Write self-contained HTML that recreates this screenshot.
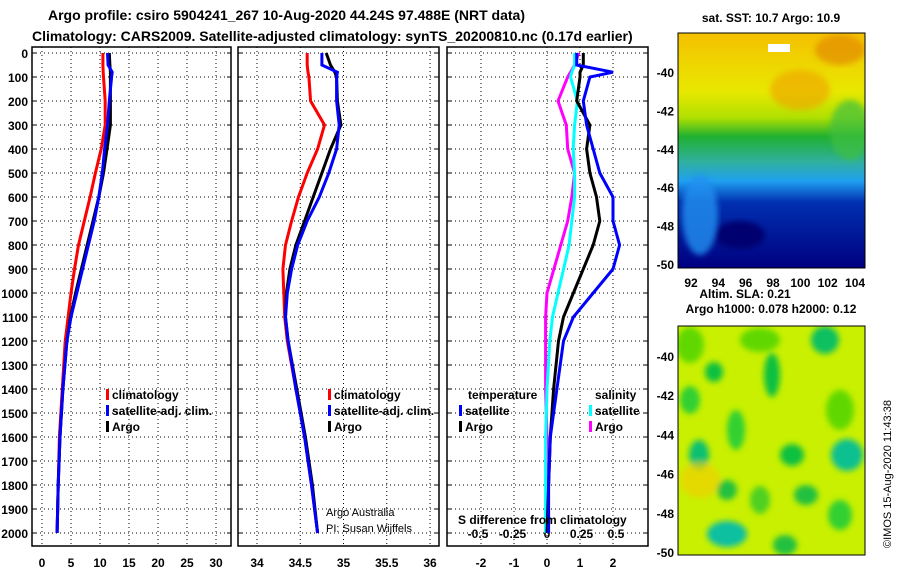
<!DOCTYPE html>
<html><head><meta charset="utf-8"><style>
body{margin:0;background:#fff;}
svg text{font-family:"Liberation Sans",sans-serif;font-weight:bold;}
</style></head><body>
<svg id="c" width="900" height="580" viewBox="0 0 900 580" xmlns="http://www.w3.org/2000/svg">
<defs>
<linearGradient id="sstg" x1="0" y1="0" x2="0" y2="1">
<stop offset="0" stop-color="#f5c000"/><stop offset="0.25" stop-color="#e8e800"/><stop offset="0.36" stop-color="#b0e000"/>
<stop offset="0.44" stop-color="#20b030"/><stop offset="0.55" stop-color="#30b0a0"/><stop offset="0.63" stop-color="#20a0f0"/>
<stop offset="0.72" stop-color="#0030b0"/><stop offset="1" stop-color="#000080"/></linearGradient>
<filter id="bl"><feGaussianBlur stdDeviation="3"/></filter>
</defs>
<text x="48" y="20" font-size="14">Argo profile: csiro 5904241_267 10-Aug-2020 44.24S 97.488E (NRT data)</text>
<text x="32" y="41" font-size="14">Climatology: CARS2009. Satellite-adjusted climatology: synTS_20200810.nc (0.17d earlier)</text>
<g id="plots"></g>
<g>
<rect x="678" y="33" width="187" height="235" fill="url(#sstg)"/>
<g clip-path="url(#m1)">
<ellipse cx="800" cy="90" rx="30" ry="20" fill="#f0a000" opacity="0.6" filter="url(#bl)"/>
<ellipse cx="840" cy="50" rx="25" ry="15" fill="#e08000" opacity="0.6" filter="url(#bl)"/>
<ellipse cx="740" cy="235" rx="25" ry="14" fill="#000070" filter="url(#bl)"/>
<ellipse cx="850" cy="130" rx="20" ry="30" fill="#40c040" opacity="0.7" filter="url(#bl)"/>
<ellipse cx="700" cy="215" rx="18" ry="40" fill="#2090f0" opacity="0.8" filter="url(#bl)"/>
<rect x="768" y="44" width="22" height="8" fill="#fff"/>
</g>
<clipPath id="m1"><rect x="678" y="33" width="187" height="235"/></clipPath>
<rect x="678" y="33" width="187" height="235" fill="none" stroke="#000"/>
<text x="771" y="22" font-size="12" text-anchor="middle">sat. SST: 10.7 Argo: 10.9</text>
</g>
<g>
<rect x="678" y="326" width="187" height="229" fill="#c8f000"/>
<g clip-path="url(#m2)" filter="url(#bl)">
<ellipse cx="825" cy="340" rx="14" ry="14" fill="#10c060"/><ellipse cx="772" cy="375" rx="8" ry="22" fill="#10c040"/>
<ellipse cx="714" cy="372" rx="9" ry="10" fill="#10c040"/><ellipse cx="690" cy="400" rx="10" ry="14" fill="#30d030"/>
<ellipse cx="736" cy="430" rx="9" ry="20" fill="#30d030"/><ellipse cx="699" cy="455" rx="10" ry="15" fill="#10c070"/>
<ellipse cx="792" cy="455" rx="12" ry="11" fill="#10c040"/><ellipse cx="847" cy="455" rx="16" ry="16" fill="#10c090"/>
<ellipse cx="727" cy="490" rx="10" ry="10" fill="#20c040"/><ellipse cx="806" cy="495" rx="12" ry="10" fill="#20c040"/>
<ellipse cx="727" cy="534" rx="20" ry="13" fill="#10c0a0"/><ellipse cx="840" cy="515" rx="12" ry="15" fill="#30d030"/>
<ellipse cx="700" cy="480" rx="20" ry="18" fill="#f0d000" opacity="0.7"/><ellipse cx="785" cy="545" rx="12" ry="10" fill="#20c040"/>
<ellipse cx="760" cy="340" rx="20" ry="12" fill="#60d800"/><ellipse cx="840" cy="410" rx="14" ry="20" fill="#60d800"/>
<ellipse cx="690" cy="345" rx="14" ry="18" fill="#60d800"/><ellipse cx="760" cy="500" rx="10" ry="14" fill="#50d020"/>
</g>
<clipPath id="m2"><rect x="678" y="326" width="187" height="229"/></clipPath>
<rect x="678" y="326" width="187" height="229" fill="none" stroke="#000"/>
<text x="745" y="298" font-size="12" text-anchor="middle">Altim. SLA: 0.21</text>
<text x="771" y="313" font-size="12" text-anchor="middle">Argo h1000: 0.078 h2000: 0.12</text>
<text transform="translate(891,548) rotate(-90)" font-size="11" style="font-weight:normal">©IMOS 15-Aug-2020 11:43:38</text>
</g>
<g id="maplabels"></g>
</svg>
<script>
var depths=[0,50,80,100,200,300,400,500,600,700,800,900,1000,1100,1200,1400,1600,1800,2000];
var tClim=[10.5,10.5,10.55,10.6,10.9,10.9,10.2,9.2,8.3,7.3,6.3,5.6,5.0,4.5,4.0,3.5,3.0,2.8,2.6];
var tSat=[11.3,11.4,12.1,12.0,11.6,11.3,10.8,10.4,9.8,9.0,8.0,7.0,6.0,5.0,4.3,3.6,3.1,2.8,2.6];
var tArgo=[11.6,11.7,11.8,11.8,11.8,11.8,11.2,10.6,9.8,8.8,7.8,6.8,5.8,4.9,4.3,3.6,3.1,2.8,2.6];
var sClim=[34.58,34.58,34.59,34.6,34.62,34.78,34.7,34.58,34.48,34.4,34.33,34.3,34.31,34.32,34.35,34.45,34.55,34.63,34.7];
var sSat=[34.75,34.75,34.93,34.92,34.92,34.95,34.92,34.83,34.72,34.58,34.47,34.4,34.35,34.33,34.36,34.45,34.55,34.63,34.7];
var sArgo=[34.8,34.85,34.9,34.92,34.93,34.97,34.85,34.75,34.65,34.55,34.45,34.38,34.34,34.33,34.36,34.46,34.56,34.64,34.7];
var dTSat=[0.9,0.9,2.0,1.3,1.1,1.2,1.4,1.6,2.0,2.0,2.2,2.0,1.4,0.8,0.5,0.3,0.1,0.05,0.05];
var dTArgo=[1.1,1.1,1.0,1.0,0.9,1.3,1.2,1.3,1.5,1.6,1.4,1.1,0.8,0.5,0.35,0.2,0.1,0.05,0.0];
var dSSat=[0.2,0.2,0.18,0.17,0.22,0.2,0.19,0.2,0.2,0.18,0.16,0.12,0.08,0.04,0.02,0.0,-0.01,-0.01,-0.01];
var dSArgo=[0.23,0.2,0.17,0.15,0.08,0.14,0.15,0.2,0.18,0.15,0.1,0.05,0.0,-0.01,-0.01,-0.01,0.0,0.0,0.0];
var depthTicks=[0,100,200,300,400,500,600,700,800,900,1000,1100,1200,1300,1400,1500,1600,1700,1800,1900,2000];
var tTicks=[0,5,10,15,20,25,30];
var sTicks=[34,34.5,35,35.5,36];
var dTTicks=[-2,-1,0,1,2];
var dSTicks=[-0.5,-0.25,0,0.25,0.5];
var latTicks=[-40,-42,-44,-46,-48,-50];
var lonTicks=[92,94,96,98,100,102,104];

var NS='http://www.w3.org/2000/svg';
var G=document.getElementById('plots');
function mk(t,a,p){var e=document.createElementNS(NS,t);for(var k in a)e.setAttribute(k,a[k]);(p||G).appendChild(e);return e;}
function yD(d){return 53+d*0.24;}
function xT(v){return 42+v*5.8;}
function xS(v){return 257+(v-34)*86.5;}
function xdT(v){return 547+v*33;}
function xdS(v){return 547+v*138;}
var panels=[{x0:32,x1:231,fx:xT,ticks:tTicks,name:'temperature'},{x0:238,x1:439,fx:xS,ticks:sTicks,name:'salinity'},{x0:447,x1:648,fx:xdT,ticks:dTTicks,name:'difference'}];
panels.forEach(function(p,i){
  var g=mk('g',{});
  
  
  depthTicks.forEach(function(d){
    var l=mk('line',{x1:p.x0,x2:p.x1,y1:yD(d),y2:yD(d),stroke:'#000','stroke-dasharray':'1,3'},g);
    
    
    mk('line',{x1:p.x0,x2:p.x0+4,y1:yD(d),y2:yD(d),stroke:'#000'},g);
    mk('line',{x1:p.x1-4,x2:p.x1,y1:yD(d),y2:yD(d),stroke:'#000'},g);
  });
  p.ticks.forEach(function(v){
    var x=p.fx(v);
    var l=mk('line',{x1:x,x2:x,y1:47,y2:546,stroke:'#000','stroke-dasharray':'1,3'},g);
    
    
    var t=mk('text',{x:x,y:567,'font-size':12,'text-anchor':'middle'},g);t.textContent=v;
    
    
  });
  var r=mk('rect',{x:p.x0,y:47,width:p.x1-p.x0,height:499,fill:'none',stroke:'#000','stroke-width':1.5},g);
  
  
});
depthTicks.forEach(function(d){
  var t=mk('text',{x:28,y:yD(d)+5,'font-size':12,'text-anchor':'end'});t.textContent=d;
  
  
});
dSTicks.forEach(function(v){
  var t=mk('text',{x:xdS(v),y:538,'font-size':12,'text-anchor':'middle'});t.textContent=v;
  
  
});
function line(vals,fx,col,name){
  var pts=vals.map(function(v,i){return fx(v).toFixed(1)+','+yD(depths[i]).toFixed(1);}).join(' ');
  var e=mk('polyline',{points:pts,fill:'none',stroke:col,'stroke-width':3});
  
  
}
line(tClim,xT,'#ff0000','temp-climatology-line');
line(tArgo,xT,'#000','temp-argo-line');
line(tSat,xT,'#0000ff','temp-satellite-line');
line(sClim,xS,'#ff0000','sal-climatology-line');
line(sArgo,xS,'#000','sal-argo-line');
line(sSat,xS,'#0000ff','sal-satellite-line');
line(dSArgo,xdS,'#ff00ff','sdiff-argo-line');
line(dSSat,xdS,'#00ffff','sdiff-satellite-line');
line(dTArgo,xdT,'#000','tdiff-argo-line');
line(dTSat,xdT,'#0000ff','tdiff-satellite-line');
function leg(x,y,col,txt,name){
  var g=mk('g',{});
  
  
  mk('rect',{x:x,y:y-10,width:3,height:11,fill:col},g);
  var t=mk('text',{x:x+6,y:y,'font-size':12},g);t.textContent=txt;
}
leg(106,399,'#f00','climatology','legend-climatology');
leg(106,415,'#00f','satellite-adj. clim.','legend-satellite');
leg(106,431,'#000','Argo','legend-argo');
leg(328,399,'#f00','climatology','legend2-climatology');
leg(328,415,'#00f','satellite-adj. clim.','legend2-satellite');
leg(328,431,'#000','Argo','legend2-argo');
leg(459,415,'#00f','satellite','legend3-t-satellite');
leg(459,431,'#000','Argo','legend3-t-argo');
leg(589,415,'#0ff','satellite','legend3-s-satellite');
leg(589,431,'#f0f','Argo','legend3-s-argo');
var tt=[[468,399,'temperature'],[595,399,'salinity'],[458,524,'S difference from climatology']];
tt.forEach(function(a){var t=mk('text',{x:a[0],y:a[1],'font-size':12});t.textContent=a[2];
  
  });
[['Argo Australia',516],['PI: Susan Wijffels',532]].forEach(function(a){
  var t=mk('text',{x:326,y:a[1],'font-size':11,style:'font-weight:normal'});t.textContent=a[0];
  
  
});
var ML=document.getElementById('maplabels');
latTicks.forEach(function(v){
  var y1=72+(-40-v)*19.2, y2=356+(-40-v)*19.6;
  var t=mk('text',{x:674,y:y1+5,'font-size':12,'text-anchor':'end'},ML);t.textContent=v;
  
  
  var t2=mk('text',{x:674,y:y2+5,'font-size':12,'text-anchor':'end'},ML);t2.textContent=v;
  
  
});
lonTicks.forEach(function(v){
  var x=691+(v-92)*13.67;
  var t=mk('text',{x:x,y:287,'font-size':12,'text-anchor':'middle'},ML);t.textContent=v;
  
  
});
</script>
</body></html>
